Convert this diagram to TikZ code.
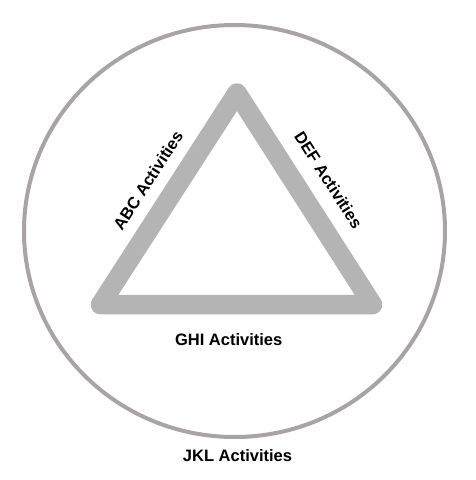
\documentclass[tikz,border=0pt]{standalone}
\usepackage{fontspec}
\setmainfont{Liberation Sans}
\usepackage{xcolor}
\usepackage{tikz}
\usetikzlibrary{positioning,calc}
\definecolor{bandgray}{RGB}{180,180,180}
\definecolor{ringgray}{RGB}{168,164,164}
\tikzset{
  band/.style={draw=bandgray, line width=19.5pt, line join=round},
  ring/.style={draw=ringgray, line width=4pt},
  lab/.style={font=\fontsize{16.5}{18}\selectfont\bfseries, inner sep=0pt, text=black},
}

\begin{document}
\begin{tikzpicture}[x=1pt, y=-1pt]
\useasboundingbox (0,0) rectangle (475,480);
\coordinate (ctr) at (234.5,231);
\coordinate (apex) at (237,93);
\coordinate (lft) at (100.5,304.6);
\coordinate (rgt) at (372.5,304.6);
% outer circle
\draw[ring] (ctr) ellipse (210.5pt and 206pt);
% triangle
\draw[band] (apex) -- (rgt) -- (lft) -- cycle;
\path (lft) -- node[lab, sloped, pos=0.516, above=21pt] (abc) {ABC Activities} (apex);
\path (apex) -- node[lab, sloped, pos=0.488, above=24pt] (def) {DEF Activities} (rgt);
\node[lab] (ghi) at (228.7,339.5) {GHI Activities};
\node[lab] (jkl) at (237.5,456) {JKL Activities};
\end{tikzpicture}
\end{document}
